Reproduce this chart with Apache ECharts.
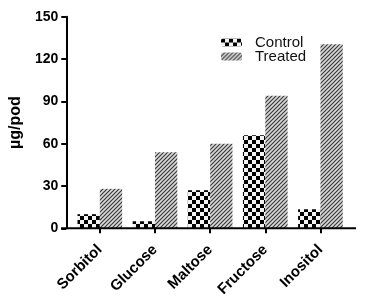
<!DOCTYPE html>
<html>
<head>
<meta charset="utf-8">
<script src="https://cdn.jsdelivr.net/npm/echarts@6/dist/echarts.min.js"></script>
<style>
  html, body { margin: 0; padding: 0; background: #fff; }
  #chart { width: 371px; height: 308px; }
</style>
</head>
<body>
<div id="chart"></div>
<script>
// 糖含量柱状图：对照 vs 处理
const categories = ["Sorbitol", "Glucose", "Maltose", "Fructose", "Inositol"];
const controlValues = [10, 5, 27, 66, 13.5];
const treatedValues = [28, 54, 60, 94, 130.5];
const yTicks = [0, 30, 60, 90, 120, 150];

// 棋盘格填充
function checkerPattern() {
  const c = document.createElement("canvas");
  c.width = 8; c.height = 8;
  const g = c.getContext("2d");
  g.fillStyle = "#f2f2f2";
  g.fillRect(0, 0, 8, 8);
  g.fillStyle = "#000";
  g.fillRect(0, 0, 4, 4);
  g.fillRect(4, 4, 4, 4);
  return c;
}

// 斜线填充
function hatchPattern() {
  const c = document.createElement("canvas");
  c.width = 4; c.height = 4;
  const g = c.getContext("2d");
  g.fillStyle = "#dadada";
  g.fillRect(0, 0, 4, 4);
  g.strokeStyle = "#3a3a3a";
  g.lineWidth = 1.2;
  g.beginPath();
  g.moveTo(-1, 5); g.lineTo(5, -1);
  g.moveTo(-1, 1); g.lineTo(1, -1);
  g.moveTo(3, 5); g.lineTo(5, 3);
  g.stroke();
  return c;
}

const chart = echarts.init(document.getElementById("chart"), null, { renderer: "canvas" });

const axisY = 228.3;

chart.setOption({
  animation: false,
  grid: { left: 68, right: 23, top: 16.8, bottom: 308 - axisY },
  legend: {
    orient: "vertical",
    left: 216,
    top: 30,
    itemWidth: 21,
    itemHeight: 8,
    itemGap: -1,
    textStyle: { fontFamily: "Liberation Sans", fontSize: 15, color: "#111", padding: [0, 0, 0, 8] },
    data: ["Control", "Treated"]
  },
  xAxis: {
    type: "category",
    data: categories,
    axisLine: { show: false },
    axisTick: { show: true, alignWithLabel: true, length: 5, lineStyle: { color: "#000", width: 2 } },
    axisLabel: {
      rotate: 45,
      margin: 19,
      fontFamily: "Liberation Sans",
      fontWeight: "bold",
      fontSize: 15,
      color: "#000"
    }
  },
  yAxis: {
    type: "value",
    min: yTicks[0],
    max: yTicks[yTicks.length - 1],
    interval: 30,
    offset: 6,
    name: "µg/pod",
    nameLocation: "middle",
    nameGap: 34,
    nameTextStyle: { fontFamily: "Liberation Sans", fontWeight: "bold", fontSize: 16, color: "#000" },
    splitLine: { show: false },
    axisLine: { show: true, lineStyle: { color: "#000", width: 2 } },
    axisTick: { show: true, length: 5, lineStyle: { color: "#000", width: 2 } },
    axisLabel: { margin: 8, fontFamily: "Liberation Sans", fontWeight: "bold", fontSize: 14, color: "#000" }
  },
  series: [
    {
      name: "Control",
      type: "bar",
      data: controlValues,
      barGap: "0%",
      barCategoryGap: "19%",
      itemStyle: { color: { image: checkerPattern(), repeat: "repeat" } }
    },
    {
      name: "Treated",
      type: "bar",
      data: treatedValues,
      barGap: "0%",
      barCategoryGap: "19%",
      itemStyle: { color: { image: hatchPattern(), repeat: "repeat" } }
    }
  ],
  graphic: [
    {
      type: "line",
      shape: { x1: 61, y1: axisY, x2: 356, y2: axisY },
      style: { stroke: "#000", lineWidth: 2 },
      z: 10
    }
  ]
});
</script>
</body>
</html>
